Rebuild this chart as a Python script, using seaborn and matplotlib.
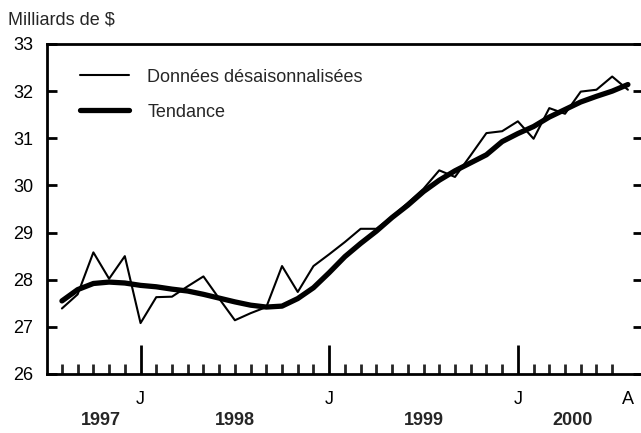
import matplotlib
matplotlib.use("Agg")
import matplotlib.pyplot as plt
import matplotlib.transforms as mtransforms
import numpy as np
import pandas as pd
import seaborn as sns

# mois : index 0 = août 1997 ... 36 = août 2000
mois = list(range(37))

# Données désaisonnalisées (milliards de $)
donnees = [27.39, 27.69, 28.58, 28.02, 28.50, 27.08, 27.63, 27.64, 27.86, 28.07,
           27.60, 27.14, 27.29, 27.42, 28.29, 27.74, 28.29, 28.54, 28.80, 29.08,
           29.08, 29.34, 29.63, 29.93, 30.32, 30.18, 30.64, 31.11, 31.15, 31.36,
           30.99, 31.64, 31.52, 31.99, 32.03, 32.31, 32.03]

# Tendance
tendance = [27.55, 27.79, 27.92, 27.95, 27.93, 27.88, 27.85, 27.80, 27.76, 27.69,
            27.61, 27.53, 27.46, 27.42, 27.44, 27.60, 27.83, 28.15, 28.49, 28.77,
            29.03, 29.32, 29.58, 29.87, 30.11, 30.31, 30.48, 30.65, 30.93, 31.10,
            31.25, 31.45, 31.61, 31.77, 31.89, 32.00, 32.07]
tendance = tendance[:36] + [32.14]

mois_lettres = ["J", "J", "J", "A"]
mois_pos = [5, 17, 29, 36]
annees = ["1997", "1998", "1999", "2000"]
annees_pos = [2.5, 11, 23, 32.5]

df = pd.DataFrame({"mois": mois, "donnees": donnees, "tendance": tendance})

sns.set_style("white")
plt.rcParams['font.family'] = ['Liberation Sans', 'DejaVu Sans']
plt.rcParams['font.size'] = 13

fig = plt.figure(figsize=(6.41, 4.33), dpi=100)
ax = fig.add_axes([47 / 641, 59 / 433, 596 / 641, 330 / 433])

sns.lineplot(data=df, x="mois", y="donnees", ax=ax, color="black", linewidth=1.5,
             label="Données désaisonnalisées")
sns.lineplot(data=df, x="mois", y="tendance", ax=ax, color="black", linewidth=3.8,
             label="Tendance")

ax.set_xlim(-0.95, 36.96)
ax.set_ylim(26, 33)
ax.set_xlabel("")
ax.set_ylabel("")

for s in ax.spines.values():
    s.set_linewidth(2.0)
    s.set_color("black")

ax.set_yticks(range(26, 34))
ax.tick_params(axis="y", which="major", direction="in", length=7, width=2,
               left=True, right=True, pad=10, labelsize=13, colors="black")

ax.set_xticks(mois_pos)
ax.set_xticklabels(mois_lettres)
ax.set_xticks([m for m in mois if m not in mois_pos[:3]], minor=True)
ax.tick_params(axis="x", which="major", direction="in", length=21, width=2,
               bottom=True, pad=12, labelsize=13, colors="black")
ax.tick_params(axis="x", which="minor", direction="in", length=7, width=2,
               bottom=True)
ax.xaxis.get_major_ticks()[3].tick1line.set_markersize(0)

trans = mtransforms.blended_transform_factory(ax.transData, ax.transAxes)
for a, p in zip(annees, annees_pos):
    ax.text(p, -0.142, a, transform=trans, ha="center", va="center",
            fontsize=13, fontweight="bold")

fig.text(8 / 641, 1 - 20 / 433, "Milliards de $", ha="left", va="center", fontsize=13)

leg = ax.legend(loc="upper left", bbox_to_anchor=(0.055, 0.925), frameon=False,
                borderaxespad=0, borderpad=0, handlelength=2.7, handletextpad=1.05,
                labelspacing=1.0, fontsize=13)

fig.savefig("out.png", dpi=100)
